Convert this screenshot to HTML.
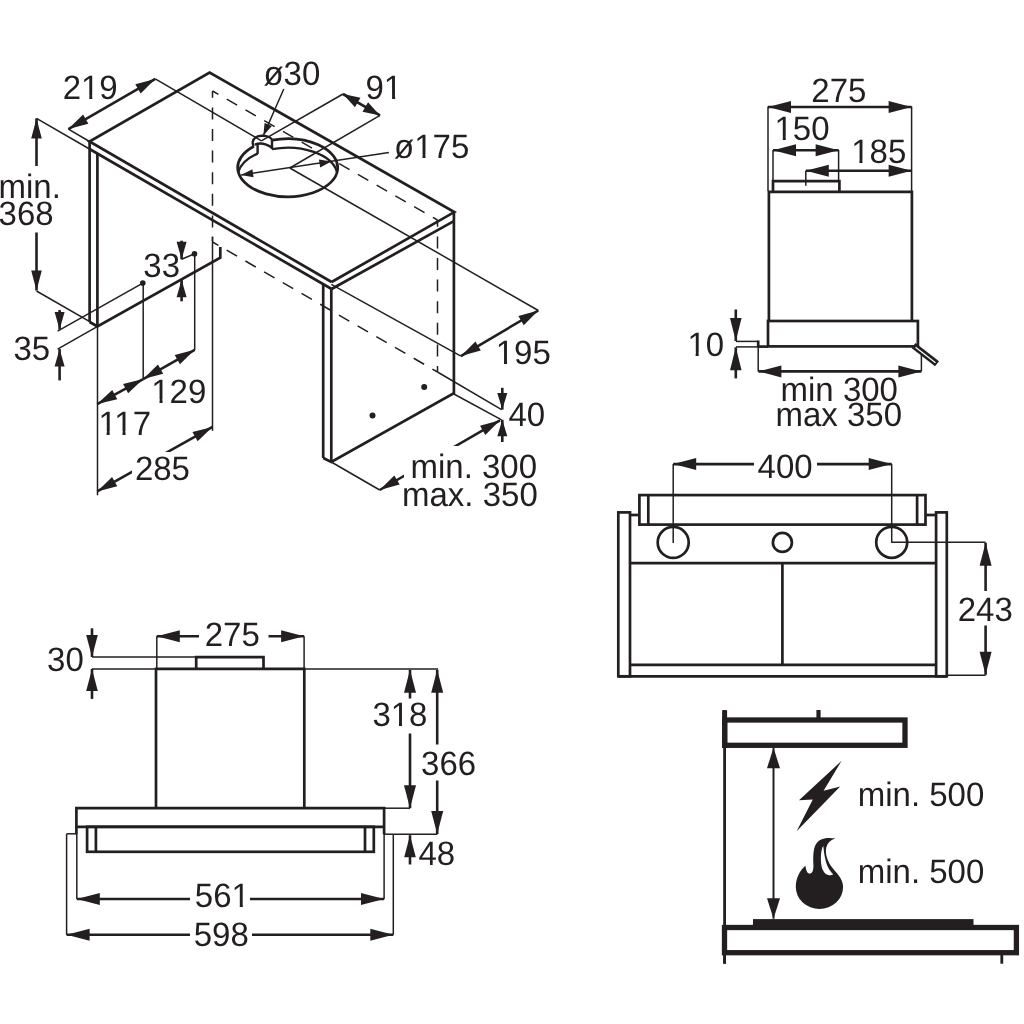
<!DOCTYPE html>
<html><head><meta charset="utf-8"><style>
html,body{margin:0;padding:0;background:#fff;width:1024px;height:1024px;overflow:hidden}
svg{display:block;will-change:transform}
text{font-family:"Liberation Sans",sans-serif;fill:#231f20;stroke:none;text-rendering:geometricPrecision}
</style></head><body>
<svg width="1024" height="1024" viewBox="0 0 1024 1024" stroke="#231f20" fill="none" stroke-linecap="butt">
<polyline points="331.60,282.00 89.50,141.50 209.60,72.50 454.30,212.10 331.60,282.00" stroke-width="2.7" fill="none" />
<line x1="89.50" y1="149.00" x2="331.60" y2="289.00" stroke-width="2.7" />
<line x1="331.60" y1="289.00" x2="454.30" y2="220.90" stroke-width="2.7" />
<line x1="89.60" y1="141.50" x2="89.60" y2="322.00" stroke-width="2.7" />
<line x1="97.40" y1="153.50" x2="97.40" y2="326.50" stroke-width="2.7" />
<polyline points="89.60,322.00 97.40,326.50 220.30,257.60 220.30,246.90" stroke-width="2.7" fill="none" />
<line x1="323.20" y1="284.50" x2="323.20" y2="458.00" stroke-width="2.7" />
<line x1="331.30" y1="289.00" x2="331.30" y2="462.00" stroke-width="2.7" />
<polyline points="323.20,458.00 331.30,462.00 453.90,393.30 453.90,212.10" stroke-width="2.7" fill="none" />
<line x1="212.50" y1="91.00" x2="212.50" y2="241.00" stroke-width="1.5" stroke-dasharray="12 9.6" stroke-dashoffset="5.2"/>
<mask id="mh" maskUnits="userSpaceOnUse" x="0" y="0" width="1024" height="1024"><rect width="1024" height="1024" fill="#fff"/><rect x="313" y="140" width="24" height="30" fill="#000"/></mask>
<line x1="212.50" y1="91.00" x2="437.50" y2="220.00" stroke-width="1.5" stroke-dasharray="12 9.6" stroke-dashoffset="5.2" mask="url(#mh)"/>
<line x1="437.50" y1="220.00" x2="437.50" y2="372.00" stroke-width="1.5" stroke-dasharray="12 9.6" stroke-dashoffset="5.2"/>
<line x1="212.50" y1="242.00" x2="437.50" y2="372.00" stroke-width="1.5" stroke-dasharray="12 9.6" stroke-dashoffset="5.2"/>
<line x1="212.50" y1="236.50" x2="212.50" y2="430.80" stroke-width="1.5" />
<line x1="97.50" y1="326.00" x2="97.50" y2="495.30" stroke-width="1.5" />
<circle cx="142.80" cy="283.10" r="2.80" stroke-width="0" fill="#231f20"/>
<circle cx="194.50" cy="253.80" r="2.80" stroke-width="0" fill="#231f20"/>
<circle cx="372.50" cy="415.60" r="3.00" stroke-width="0" fill="#231f20"/>
<circle cx="424.20" cy="387.00" r="3.00" stroke-width="0" fill="#231f20"/>
<line x1="143.20" y1="283.00" x2="143.20" y2="379.40" stroke-width="1.5" />
<line x1="194.70" y1="254.00" x2="194.70" y2="350.10" stroke-width="1.5" />
<path d="M272,140.17 A50,29 0 1 1 254,146.28" stroke-width="2.7" fill="none" />
<path d="M254,146.28 C252,144.6 252,139.6 256,137.3 C258.5,135.4 265.5,135.2 269.5,137.3 C271.6,138.4 272,139.6 272,140.6 L272,149.2" stroke-width="2.4000000000000004" fill="none" />
<path d="M254.8,144.6 Q263,141.2 272,147.8" stroke-width="2.4000000000000004" fill="none" />
<path d="M257.6,144.5 L257.6,153.9" stroke-width="2.4000000000000004" fill="none" />
<path d="M238.3,172.2 A50,29 0 0 1 257.6,153.54" stroke-width="2.4000000000000004" fill="none" />
<path d="M272,149.17 A50,29 0 0 1 337.1,172.2" stroke-width="2.4000000000000004" fill="none" />
<line x1="68.40" y1="129.10" x2="89.50" y2="141.50" stroke-width="1.5" />
<line x1="155.30" y1="78.90" x2="261.40" y2="140.80" stroke-width="1.5" />
<line x1="68.40" y1="129.10" x2="155.30" y2="78.90" stroke-width="2.6" />
<polygon points="68.40,129.10 83.07,114.51 88.37,123.69" stroke="none" fill="#231f20"/>
<polygon points="155.30,78.90 140.63,93.49 135.33,84.31" stroke="none" fill="#231f20"/>
<text x="62.67" y="98.74" font-size="33" transform="matrix(1 0 0 1.0242 0 -2.394)">219</text>
<rect x="82.64" y="95.19" width="6.62" height="4.70" fill="#fff" stroke="none"/>
<rect x="92.30" y="95.19" width="6.45" height="4.70" fill="#fff" stroke="none"/>
<line x1="263.40" y1="135.50" x2="283.80" y2="89.00" stroke-width="1.5" />
<polygon points="263.40,135.50 264.56,122.90 271.88,126.12" stroke="none" fill="#231f20"/>
<text x="263.46" y="84.94" font-size="33" transform="matrix(1 0 0 1.0242 0 -2.059)">ø30</text>
<line x1="261.40" y1="140.80" x2="343.00" y2="94.00" stroke-width="1.5" />
<line x1="289.80" y1="168.00" x2="380.00" y2="115.40" stroke-width="1.5" />
<line x1="343.00" y1="94.00" x2="380.00" y2="115.40" stroke-width="2.6" />
<polygon points="343.00,94.00 360.47,97.75 354.96,107.27" stroke="none" fill="#231f20"/>
<polygon points="380.00,115.40 362.53,111.65 368.04,102.13" stroke="none" fill="#231f20"/>
<text x="365.49" y="98.54" font-size="33" transform="matrix(1 0 0 1.0242 0 -2.389)">91</text>
<rect x="385.46" y="94.99" width="6.62" height="4.70" fill="#fff" stroke="none"/>
<rect x="395.12" y="94.99" width="6.45" height="4.70" fill="#fff" stroke="none"/>
<line x1="241.10" y1="175.00" x2="388.90" y2="152.50" stroke-width="1.5" />
<polygon points="241.10,175.00 252.41,169.33 253.55,177.25" stroke="none" fill="#231f20"/>
<polygon points="331.40,161.60 320.15,167.38 318.93,159.47" stroke="none" fill="#231f20"/>
<text x="394.08" y="158.01" font-size="33" transform="matrix(1 0 0 1.0242 0 -3.831)">ø175</text>
<rect x="415.85" y="154.47" width="6.62" height="4.70" fill="#fff" stroke="none"/>
<rect x="425.52" y="154.47" width="6.45" height="4.70" fill="#fff" stroke="none"/>
<line x1="331.30" y1="284.40" x2="460.90" y2="356.10" stroke-width="1.5" />
<line x1="289.80" y1="168.00" x2="538.30" y2="310.50" stroke-width="1.5" />
<line x1="460.90" y1="356.10" x2="538.30" y2="310.50" stroke-width="2.6" />
<polygon points="460.90,356.10 475.44,341.38 480.82,350.51" stroke="none" fill="#231f20"/>
<polygon points="538.30,310.50 523.76,325.22 518.38,316.09" stroke="none" fill="#231f20"/>
<text x="495.78" y="363.54" font-size="33" transform="matrix(1 0 0 1.0242 0 -8.813)">195</text>
<rect x="497.39" y="359.99" width="6.62" height="4.70" fill="#fff" stroke="none"/>
<rect x="507.06" y="359.99" width="6.45" height="4.70" fill="#fff" stroke="none"/>
<line x1="437.50" y1="372.00" x2="501.60" y2="409.60" stroke-width="1.5" />
<line x1="453.90" y1="394.00" x2="501.60" y2="419.80" stroke-width="1.5" />
<line x1="502.30" y1="409.60" x2="502.30" y2="387.80" stroke-width="2.6" />
<polygon points="502.30,409.60 497.30,393.10 507.30,393.10" stroke="none" fill="#231f20"/>
<line x1="502.30" y1="419.80" x2="502.30" y2="442.00" stroke-width="2.6" />
<polygon points="502.30,419.80 507.30,436.30 497.30,436.30" stroke="none" fill="#231f20"/>
<text x="508.49" y="426.39" font-size="33" transform="matrix(1 0 0 1.0242 0 -10.337)">40</text>
<line x1="331.30" y1="462.00" x2="379.70" y2="490.00" stroke-width="1.5" />
<line x1="379.70" y1="490.00" x2="500.00" y2="420.30" stroke-width="2.6" />
<polygon points="379.70,490.00 394.35,475.39 399.66,484.56" stroke="none" fill="#231f20"/>
<polygon points="500.00,420.30 485.35,434.91 480.04,425.74" stroke="none" fill="#231f20"/>
<rect x="404" y="446" width="136" height="66" fill="#fff" stroke="none"/>
<text x="410.51" y="478.43" font-size="33" transform="matrix(1 0 0 1.0242 0 -11.598)">min. 300</text>
<text x="402.03" y="506.04" font-size="33" transform="matrix(1 0 0 1.0242 0 -12.268)">max. 350</text>
<line x1="36.50" y1="118.40" x2="89.50" y2="149.00" stroke-width="1.5" />
<line x1="36.50" y1="291.00" x2="96.70" y2="325.70" stroke-width="1.5" />
<line x1="36.50" y1="118.40" x2="36.50" y2="290.50" stroke-width="2.6" />
<polygon points="36.50,118.40 41.80,138.40 31.20,138.40" stroke="none" fill="#231f20"/>
<polygon points="36.50,290.50 31.20,270.50 41.80,270.50" stroke="none" fill="#231f20"/>
<rect x="0" y="166" width="60" height="66.5" fill="#fff" stroke="none"/>
<text x="-1.46" y="197.85" font-size="33" transform="matrix(1 0 0 1.0242 0 -4.796)">min.</text>
<text x="-1.44" y="224.54" font-size="33" transform="matrix(1 0 0 1.0242 0 -5.443)">368</text>
<line x1="57.60" y1="331.20" x2="142.80" y2="283.10" stroke-width="1.5" />
<line x1="57.60" y1="349.10" x2="97.20" y2="326.70" stroke-width="1.5" />
<line x1="59.60" y1="329.60" x2="59.60" y2="310.00" stroke-width="2.6" />
<polygon points="59.60,329.60 54.60,312.10 64.60,312.10" stroke="none" fill="#231f20"/>
<line x1="59.60" y1="349.10" x2="59.60" y2="380.40" stroke-width="2.6" />
<polygon points="59.60,349.10 64.60,366.60 54.60,366.60" stroke="none" fill="#231f20"/>
<text x="13.41" y="359.79" font-size="33" transform="matrix(1 0 0 1.0242 0 -8.722)">35</text>
<line x1="181.60" y1="259.30" x2="194.50" y2="253.80" stroke-width="1.5" />
<line x1="181.60" y1="259.30" x2="181.60" y2="240.70" stroke-width="2.6" />
<polygon points="181.60,259.30 176.60,241.80 186.60,241.80" stroke="none" fill="#231f20"/>
<line x1="181.60" y1="279.80" x2="181.60" y2="301.30" stroke-width="2.6" />
<polygon points="181.60,279.80 186.60,297.30 176.60,297.30" stroke="none" fill="#231f20"/>
<text x="143.34" y="277.29" font-size="33" transform="matrix(1 0 0 1.0242 0 -6.722)">33</text>
<line x1="143.20" y1="379.10" x2="194.70" y2="349.80" stroke-width="2.6" />
<polygon points="143.20,379.10 157.96,364.60 163.20,373.82" stroke="none" fill="#231f20"/>
<polygon points="194.70,349.80 179.94,364.30 174.70,355.08" stroke="none" fill="#231f20"/>
<text x="151.26" y="402.74" font-size="33" transform="matrix(1 0 0 1.0242 0 -9.763)">129</text>
<rect x="152.88" y="399.19" width="6.62" height="4.70" fill="#fff" stroke="none"/>
<rect x="162.54" y="399.19" width="6.45" height="4.70" fill="#fff" stroke="none"/>
<line x1="97.20" y1="404.10" x2="143.20" y2="379.10" stroke-width="2.6" />
<polygon points="97.20,404.10 112.24,389.89 117.30,399.21" stroke="none" fill="#231f20"/>
<polygon points="143.20,379.10 128.16,393.31 123.10,383.99" stroke="none" fill="#231f20"/>
<text x="98.39" y="434.63" font-size="33" transform="matrix(1 0 0 1.0242 0 -10.536)">117</text>
<rect x="100.00" y="431.08" width="6.62" height="4.70" fill="#fff" stroke="none"/>
<rect x="109.67" y="431.08" width="6.45" height="4.70" fill="#fff" stroke="none"/>
<rect x="115.90" y="431.08" width="6.62" height="4.70" fill="#fff" stroke="none"/>
<rect x="125.57" y="431.08" width="6.45" height="4.70" fill="#fff" stroke="none"/>
<line x1="97.20" y1="491.40" x2="212.50" y2="426.90" stroke-width="2.6" />
<polygon points="97.20,491.40 112.07,477.01 117.24,486.26" stroke="none" fill="#231f20"/>
<polygon points="212.50,426.90 197.63,441.29 192.46,432.04" stroke="none" fill="#231f20"/>
<rect x="132" y="452" width="60" height="32" fill="#fff" stroke="none"/>
<text x="134.88" y="479.54" font-size="33" transform="matrix(1 0 0 1.0242 0 -11.625)">285</text>
<polyline points="768.90,321.00 768.90,191.80 911.90,191.80 911.90,321.00" stroke-width="2.7" fill="none" />
<rect x="768.00" y="321.00" width="149.90" height="25.40" stroke-width="2.7" fill="none"/>
<polyline points="773.00,192.00 773.00,181.20 839.40,181.20 839.40,192.00" stroke-width="2.7" fill="none" />
<line x1="768.00" y1="106.50" x2="768.00" y2="191.00" stroke-width="1.5" />
<line x1="911.60" y1="106.50" x2="911.60" y2="191.00" stroke-width="1.5" />
<line x1="768.00" y1="107.00" x2="911.60" y2="107.00" stroke-width="2.6" />
<polygon points="768.00,107.00 791.00,101.00 791.00,113.00" stroke="none" fill="#231f20"/>
<polygon points="911.60,107.00 888.60,113.00 888.60,101.00" stroke="none" fill="#231f20"/>
<text x="811.33" y="101.59" font-size="33" transform="matrix(1 0 0 1.0242 0 -2.463)">275</text>
<line x1="773.00" y1="150.00" x2="773.00" y2="181.00" stroke-width="1.5" />
<line x1="838.60" y1="150.00" x2="838.60" y2="181.00" stroke-width="1.5" />
<line x1="773.00" y1="150.20" x2="838.60" y2="150.20" stroke-width="2.6" />
<polygon points="773.00,150.20 796.00,144.20 796.00,156.20" stroke="none" fill="#231f20"/>
<polygon points="838.60,150.20 815.60,156.20 815.60,144.20" stroke="none" fill="#231f20"/>
<text x="774.53" y="139.99" font-size="33" transform="matrix(1 0 0 1.0242 0 -3.394)">150</text>
<rect x="776.14" y="136.44" width="6.62" height="4.70" fill="#fff" stroke="none"/>
<rect x="785.81" y="136.44" width="6.45" height="4.70" fill="#fff" stroke="none"/>
<line x1="805.80" y1="170.70" x2="805.80" y2="185.80" stroke-width="1.5" />
<line x1="805.80" y1="170.70" x2="911.60" y2="170.70" stroke-width="2.6" />
<polygon points="805.80,170.70 828.80,164.70 828.80,176.70" stroke="none" fill="#231f20"/>
<polygon points="911.60,170.70 888.60,176.70 888.60,164.70" stroke="none" fill="#231f20"/>
<text x="851.18" y="163.24" font-size="33" transform="matrix(1 0 0 1.0242 0 -3.957)">185</text>
<rect x="852.79" y="159.69" width="6.62" height="4.70" fill="#fff" stroke="none"/>
<rect x="862.46" y="159.69" width="6.45" height="4.70" fill="#fff" stroke="none"/>
<line x1="736.00" y1="341.40" x2="758.20" y2="341.40" stroke-width="1.5" />
<line x1="736.00" y1="346.90" x2="758.20" y2="346.90" stroke-width="1.5" />
<line x1="758.20" y1="341.40" x2="758.20" y2="371.40" stroke-width="1.5" />
<line x1="758.20" y1="340.50" x2="758.20" y2="347.50" stroke-width="2.7" />
<line x1="758.20" y1="346.60" x2="768.00" y2="346.60" stroke-width="2.7" />
<line x1="735.80" y1="341.10" x2="735.80" y2="309.50" stroke-width="2.6" />
<polygon points="735.80,341.10 730.00,318.10 741.60,318.10" stroke="none" fill="#231f20"/>
<line x1="735.80" y1="347.25" x2="735.80" y2="378.40" stroke-width="2.6" />
<polygon points="735.80,347.25 741.60,370.25 730.00,370.25" stroke="none" fill="#231f20"/>
<text x="687.40" y="355.89" font-size="33" transform="matrix(1 0 0 1.0242 0 -8.628)">10</text>
<rect x="689.02" y="352.34" width="6.62" height="4.70" fill="#fff" stroke="none"/>
<rect x="698.68" y="352.34" width="6.45" height="4.70" fill="#fff" stroke="none"/>
<path d="M913.5,345.5 L937,363.8" stroke-width="6.5" fill="none" />
<path d="M915.5,347.3 L935.5,362.8" stroke-width="1.2" fill="none" stroke="#fff"/>
<line x1="921.40" y1="355.00" x2="921.40" y2="371.40" stroke-width="1.5" />
<line x1="758.40" y1="371.40" x2="921.40" y2="371.40" stroke-width="2.6" />
<polygon points="758.40,371.40 781.40,365.40 781.40,377.40" stroke="none" fill="#231f20"/>
<polygon points="921.40,371.40 898.40,377.40 898.40,365.40" stroke="none" fill="#231f20"/>
<text x="780.55" y="400.73" font-size="33" transform="matrix(1 0 0 1.0242 0 -9.715)">min 300</text>
<text x="775.46" y="426.29" font-size="33" transform="matrix(1 0 0 1.0242 0 -10.334)">max 350</text>
<line x1="673.20" y1="464.10" x2="673.20" y2="542.90" stroke-width="1.5" />
<line x1="891.70" y1="464.10" x2="891.70" y2="542.80" stroke-width="1.5" />
<line x1="673.20" y1="464.10" x2="891.70" y2="464.10" stroke-width="2.6" />
<polygon points="673.20,464.10 696.20,458.10 696.20,470.10" stroke="none" fill="#231f20"/>
<polygon points="891.70,464.10 868.70,470.10 868.70,458.10" stroke="none" fill="#231f20"/>
<rect x="754" y="450" width="63" height="32" fill="#fff" stroke="none"/>
<text x="757.59" y="477.69" font-size="33" transform="matrix(1 0 0 1.0242 0 -11.580)">400</text>
<rect x="639.40" y="495.10" width="286.10" height="29.50" stroke-width="2.7" fill="none"/>
<line x1="648.30" y1="495.10" x2="648.30" y2="524.60" stroke-width="2.7" />
<line x1="917.10" y1="495.10" x2="917.10" y2="524.60" stroke-width="2.7" />
<rect x="618.30" y="512.40" width="11.70" height="163.90" stroke-width="2.7" fill="none"/>
<rect x="936.10" y="512.40" width="10.70" height="163.90" stroke-width="2.7" fill="none"/>
<line x1="630.00" y1="515.00" x2="639.40" y2="515.00" stroke-width="2.7" />
<line x1="925.50" y1="515.00" x2="936.10" y2="515.00" stroke-width="2.7" />
<circle cx="673.20" cy="542.40" r="15.50" stroke-width="2.7" fill="none"/>
<circle cx="782.40" cy="542.40" r="9.50" stroke-width="2.7" fill="none"/>
<circle cx="891.70" cy="542.30" r="15.50" stroke-width="2.7" fill="none"/>
<line x1="630.00" y1="563.20" x2="936.10" y2="563.20" stroke-width="2.7" />
<line x1="782.40" y1="563.20" x2="782.40" y2="664.80" stroke-width="2.7" />
<line x1="630.00" y1="664.80" x2="936.10" y2="664.80" stroke-width="2.7" />
<line x1="618.30" y1="676.30" x2="946.80" y2="676.30" stroke-width="2.7" />
<line x1="891.70" y1="542.30" x2="985.60" y2="542.30" stroke-width="1.5" />
<line x1="946.80" y1="675.30" x2="985.60" y2="675.30" stroke-width="1.5" />
<line x1="985.60" y1="542.80" x2="985.60" y2="674.80" stroke-width="2.6" />
<polygon points="985.60,542.80 991.60,565.80 979.60,565.80" stroke="none" fill="#231f20"/>
<polygon points="985.60,674.80 979.60,651.80 991.60,651.80" stroke="none" fill="#231f20"/>
<rect x="955" y="591" width="60" height="34.5" fill="#fff" stroke="none"/>
<text x="957.77" y="621.14" font-size="33" transform="matrix(1 0 0 1.0242 0 -15.058)">243</text>
<line x1="92.00" y1="657.00" x2="92.00" y2="628.30" stroke-width="2.6" />
<polygon points="92.00,657.00 86.20,635.00 97.80,635.00" stroke="none" fill="#231f20"/>
<line x1="92.00" y1="668.90" x2="92.00" y2="698.90" stroke-width="2.6" />
<polygon points="92.00,668.90 97.80,690.90 86.20,690.90" stroke="none" fill="#231f20"/>
<text x="47.06" y="671.14" font-size="33" transform="matrix(1 0 0 1.0242 0 -16.270)">30</text>
<line x1="92.00" y1="657.00" x2="196.20" y2="657.00" stroke-width="1.5" />
<line x1="92.00" y1="668.90" x2="156.00" y2="668.90" stroke-width="1.5" />
<polyline points="196.20,668.90 196.20,657.20 263.50,657.20 263.50,668.90" stroke-width="2.7" fill="none" />
<polyline points="156.00,808.20 156.00,668.90 304.30,668.90 304.30,808.20" stroke-width="2.7" fill="none" />
<line x1="156.80" y1="636.20" x2="156.80" y2="668.90" stroke-width="1.5" />
<line x1="304.10" y1="636.20" x2="304.10" y2="668.90" stroke-width="1.5" />
<line x1="156.80" y1="636.20" x2="304.10" y2="636.20" stroke-width="2.6" />
<polygon points="156.80,636.20 179.80,630.20 179.80,642.20" stroke="none" fill="#231f20"/>
<polygon points="304.10,636.20 281.10,642.20 281.10,630.20" stroke="none" fill="#231f20"/>
<rect x="199" y="618" width="69.5" height="32" fill="#fff" stroke="none"/>
<text x="204.68" y="645.74" font-size="33" transform="matrix(1 0 0 1.0242 0 -15.654)">275</text>
<line x1="304.10" y1="668.90" x2="438.00" y2="668.90" stroke-width="1.5" />
<polyline points="76.40,834.20 76.40,808.20 384.10,808.20 384.10,834.20" stroke-width="2.7" fill="none" />
<line x1="76.40" y1="826.80" x2="384.10" y2="826.80" stroke-width="2.7" />
<rect x="87.10" y="826.80" width="286.70" height="25.00" stroke-width="2.7" fill="none"/>
<line x1="95.90" y1="826.80" x2="95.90" y2="851.80" stroke-width="2.7" />
<line x1="365.00" y1="826.80" x2="365.00" y2="851.80" stroke-width="2.7" />
<line x1="384.10" y1="808.20" x2="410.00" y2="808.20" stroke-width="1.5" />
<line x1="410.00" y1="669.70" x2="410.00" y2="808.20" stroke-width="2.6" />
<polygon points="410.00,669.70 416.00,692.70 404.00,692.70" stroke="none" fill="#231f20"/>
<polygon points="410.00,808.20 404.00,785.20 416.00,785.20" stroke="none" fill="#231f20"/>
<rect x="370" y="698.5" width="60" height="35.0" fill="#fff" stroke="none"/>
<text x="372.41" y="726.44" font-size="33" transform="matrix(1 0 0 1.0242 0 -17.611)">318</text>
<rect x="392.37" y="722.89" width="6.62" height="4.70" fill="#fff" stroke="none"/>
<rect x="402.04" y="722.89" width="6.45" height="4.70" fill="#fff" stroke="none"/>
<line x1="437.20" y1="669.70" x2="437.20" y2="834.10" stroke-width="2.6" />
<polygon points="437.20,669.70 443.20,692.70 431.20,692.70" stroke="none" fill="#231f20"/>
<polygon points="437.20,834.10 431.20,811.10 443.20,811.10" stroke="none" fill="#231f20"/>
<rect x="420" y="744.5" width="58" height="36.0" fill="#fff" stroke="none"/>
<text x="421.07" y="775.34" font-size="33" transform="matrix(1 0 0 1.0242 0 -18.796)">366</text>
<line x1="66.60" y1="833.80" x2="76.40" y2="833.80" stroke-width="1.5" />
<line x1="66.60" y1="833.80" x2="66.60" y2="934.80" stroke-width="1.5" />
<line x1="76.80" y1="834.00" x2="76.80" y2="899.00" stroke-width="1.5" />
<line x1="384.10" y1="834.20" x2="393.30" y2="834.20" stroke-width="1.5" />
<line x1="393.30" y1="834.20" x2="393.30" y2="934.80" stroke-width="1.5" />
<line x1="384.10" y1="834.00" x2="384.10" y2="899.20" stroke-width="1.5" />
<line x1="393.30" y1="834.20" x2="437.30" y2="834.20" stroke-width="1.5" />
<line x1="410.00" y1="835.20" x2="410.00" y2="864.50" stroke-width="2.6" />
<polygon points="410.00,835.20 415.80,857.20 404.20,857.20" stroke="none" fill="#231f20"/>
<text x="418.49" y="865.54" font-size="33" transform="matrix(1 0 0 1.0242 0 -20.983)">48</text>
<line x1="76.80" y1="899.00" x2="384.00" y2="899.00" stroke-width="2.6" />
<polygon points="76.80,899.00 99.80,893.00 99.80,905.00" stroke="none" fill="#231f20"/>
<polygon points="384.00,899.00 361.00,905.00 361.00,893.00" stroke="none" fill="#231f20"/>
<rect x="190" y="880" width="60" height="32" fill="#fff" stroke="none"/>
<text x="194.83" y="907.24" font-size="33" transform="matrix(1 0 0 1.0242 0 -21.994)">561</text>
<rect x="233.15" y="903.69" width="6.62" height="4.70" fill="#fff" stroke="none"/>
<rect x="242.81" y="903.69" width="6.45" height="4.70" fill="#fff" stroke="none"/>
<line x1="66.60" y1="934.80" x2="393.30" y2="934.80" stroke-width="2.6" />
<polygon points="66.60,934.80 89.60,928.80 89.60,940.80" stroke="none" fill="#231f20"/>
<polygon points="393.30,934.80 370.30,940.80 370.30,928.80" stroke="none" fill="#231f20"/>
<rect x="190" y="918" width="62" height="32" fill="#fff" stroke="none"/>
<text x="193.68" y="946.24" font-size="33" transform="matrix(1 0 0 1.0242 0 -22.939)">598</text>
<line x1="724.60" y1="710.20" x2="724.60" y2="963.70" stroke-width="2.8" />
<line x1="724.60" y1="710.20" x2="724.60" y2="748.00" stroke-width="5" />
<rect x="724.80" y="720.00" width="180.20" height="25.30" stroke-width="5.3" fill="none"/>
<line x1="818.50" y1="710.00" x2="818.50" y2="719.00" stroke-width="4.2" />
<rect x="724.50" y="927.50" width="291.90" height="25.20" stroke-width="5.3" fill="none"/>
<rect x="753" y="919.1" width="220.5" height="7" fill="#231f20" stroke="none"/>
<line x1="1001.80" y1="953.00" x2="1001.80" y2="963.70" stroke-width="2.8" />
<line x1="724.60" y1="953.00" x2="724.60" y2="963.70" stroke-width="2.8" />
<line x1="773.50" y1="747.70" x2="773.50" y2="918.75" stroke-width="2" />
<polygon points="773.50,747.70 780.00,768.20 767.00,768.20" stroke="none" fill="#231f20"/>
<polygon points="773.50,918.75 767.00,898.25 780.00,898.25" stroke="none" fill="#231f20"/>
<polygon points="841.6,760.8 799,800.2 812.8,799.4 796.6,831.3 840.2,786.4 823.6,790.7" fill="#231f20" stroke="none"/>
<path d="M805.4,865.7 C806,870.5 807.5,873.6 809.5,873.6 C812.5,873.6 813.6,870 813.4,865 C813.2,860 812.8,852 815,846 C817.5,840 823,838 829,838 C831.5,838 833.5,838.2 835.5,838.6 C830.5,840 827.5,843 826.3,847.5 C825,853 827,860 831,866 C836,873 843.1,878 843.1,887 A23.65,22 0 0 1 795.8,887 C795.8,878 800,870 805.4,865.7 Z M823.2,845.8 C820.5,851 820.5,860 821.5,866 C822.5,871.5 826,875.2 829.5,875.2 C831,875.2 832.5,874.8 833.2,874.2 C829,870 827,866 825.5,860 C824.2,855 823.8,850 823.2,845.8 Z" stroke-width="0" fill="#231f20" fill-rule="evenodd"/>
<text x="857.71" y="805.63" font-size="33" transform="matrix(1 0 0 1.0242 0 -19.530)">min. 500</text>
<text x="857.71" y="882.93" font-size="33" transform="matrix(1 0 0 1.0242 0 -21.404)">min. 500</text>
</svg>
</body></html>
